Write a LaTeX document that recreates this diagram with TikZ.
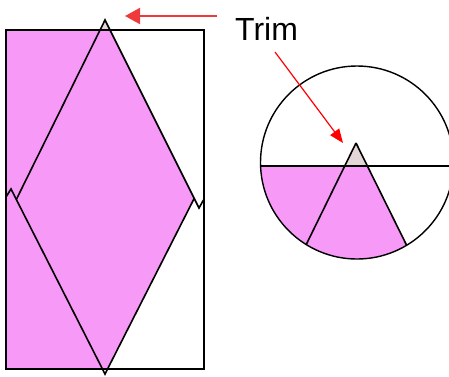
\documentclass[tikz,border=0pt]{standalone}
\usepackage{fontspec}
\setmainfont{Liberation Sans}
\usetikzlibrary{arrows.meta}
\definecolor{pinkfill}{RGB}{247,153,247}
\definecolor{trimgray}{RGB}{226,214,214}
\definecolor{arrowred}{RGB}{238,58,58}
\definecolor{pointred}{RGB}{255,0,0}
\begin{document}
\begin{tikzpicture}[x=1pt,y=-1pt,
  edge/.style={line width=1.6pt, line join=miter, black},
  thinedge/.style={line width=1.4pt, black},
  label/.style={inner sep=0pt, font=\fontsize{32}{32}\selectfont}]
\useasboundingbox (0,0) rectangle (449,376);
\fill[white] (0,0) rectangle (449,376);
\clip (0,0) rectangle (449,376);
% ---- left figure ----
\coordinate (A) at (105,20);
\coordinate (UL) at (16.3,199.5);
\coordinate (UR) at (199,208);
\coordinate (Z1) at (203.5,200);
\coordinate (B) at (105,374);
\coordinate (LL) at (11,189);
\coordinate (Z2) at (6,197);
\coordinate (LR) at (194.2,198.4);
\fill[pinkfill] (6,30) -- (110,30) -- (LR) -- (107.5,369) -- (6,369) -- cycle;
\fill[trimgray] (100.06,30) -- (A) -- (110,30) -- cycle;
\draw[edge] (6,30) rectangle (204,369);
\draw[edge] (UL) -- (A) -- (UR) -- (Z1);
\draw[edge] (Z2) -- (LL) -- (B) -- (LR);
% ---- right figure ----
\coordinate (O) at (357,162.5);
\coordinate (T) at (356,143);
\begin{scope}
  \clip (O) circle (96.5);
  \fill[pinkfill] (255,166) -- (367.4,166) -- (456,345) -- (255,345) -- cycle;
  \fill[trimgray] (344.7,166) -- (T) -- (367.4,166) -- cycle;
  \draw[edge] (T) -- (456,345);
  \draw[edge] (T) -- (257,345);
\end{scope}
\draw[thinedge] (O) circle (96.5);
\draw[edge] (260.6,166) -- (449,166);
% ---- labels and arrows ----
\node[label, anchor=base west] (trim) at (235,40.5) {Trim};
\coordinate (a1s) at (217,16);
\coordinate (a1e) at (125,16);
\draw[arrowred, line width=2pt, -{Triangle[length=15pt,width=16pt]}] (a1s) -- (a1e);
\coordinate (a2s) at (275,52);
\coordinate (a2e) at (343,143);
\draw[pointred, line width=1.2pt, -{Triangle[length=14pt,width=11pt]}] (a2s) -- (a2e);
\end{tikzpicture}
\end{document}
